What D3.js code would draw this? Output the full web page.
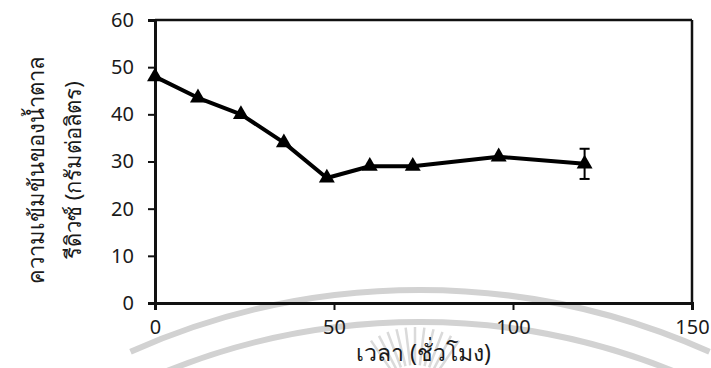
<!DOCTYPE html>
<html>
<head>
<meta charset="utf-8">
<script src="https://cdn.jsdelivr.net/npm/d3@7"></script>
<style>
  body { margin:0; background:#fff; }
  text { font-family: "Noto Sans", "DejaVu Sans", sans-serif; fill:#1a1a1a; }
</style>
</head>
<body>
<svg id="svg" width="711" height="368"></svg>
<script>
var hours  = [0, 12, 24, 36, 48, 60, 72, 96, 120],
    sugar  = [48, 43.5, 40, 34, 26.5, 29, 29, 31, 29.5],
    err    = [0, 0, 0, 0, 0, 0, 0, 0, 3.2];
var xTicks = [0, 50, 100, 150],
    yTicks = [0, 10, 20, 30, 40, 50, 60];
var yTitle = ["ความเข้มข้นของน้ำตาล", "รีดิวซ์ (กรัมต่อลิตร)"],
    xTitle = "เวลา (ชั่วโมง)";

// small stand-in for d3-selection-multi
d3.selection.prototype.attrs = function(o) {
  return this.each(function(d, i) {
    var v = typeof o === "function" ? o.call(this, d, i) : o, s = d3.select(this);
    for (var k in v) s.attr(k, v[k]);
  });
};

var svg = d3.select("#svg");
var L = 155, R = 692, T = 20, B = 303;

var x = d3.scaleLinear().domain([0, 150]).range([L, R]),
    y = d3.scaleLinear().domain([0, 60]).range([B, T]);

var data = hours.map((h, i) => ({h:h, v:sugar[i], e:err[i]}));

// faint watermark arcs behind the chart
var wm = svg.append("g").attr("fill", "none").attr("stroke", "#d2d2d2").attr("stroke-width", 6);
[[710, 0.42], [678, 0.40]].forEach(a => {
  wm.append("path").attr("transform", "translate(420,1000)")
    .attr("d", d3.arc().innerRadius(a[0]).outerRadius(a[0]).startAngle(-a[1]).endAngle(a[1]));
});
d3.range(-5, 6).forEach(k => {
  var ang = k * 0.12;
  wm.append("line").attrs({x1:415 + 78 * Math.sin(ang), y1:405 - 78 * Math.cos(ang),
                           x2:415 + 40 * Math.sin(ang), y2:405 - 40 * Math.cos(ang),
                           "stroke-width":2.5, stroke:"#dadada"});
});

// frame
svg.append("line").attrs({x1:L, x2:R, y1:T, y2:T, stroke:"#111", "stroke-width":2.5});
svg.append("line").attrs({x1:R, x2:R, y1:T, y2:B, stroke:"#111", "stroke-width":2.5});

var gx = svg.append("g").attr("transform", "translate(0," + B + ")")
    .call(d3.axisBottom(x).tickValues(xTicks).tickSize(7).tickPadding(10));
var gy = svg.append("g").attr("transform", "translate(" + L + ",0)")
    .call(d3.axisLeft(y).tickValues(yTicks).tickSize(7).tickPadding(14));

[gx, gy].forEach(g => {
  g.select(".domain").attr("stroke", "#111").attr("stroke-width", 3);
  g.selectAll(".tick line").attr("stroke", "#111").attr("stroke-width", 2);
  g.selectAll(".tick text").attr("font-size", 20).attr("fill", "#222")
    .attr("font-family", "'Noto Sans', sans-serif");
});

// line
svg.append("path").datum(data)
    .attr("d", d3.line().x(d => x(d.h)).y(d => y(d.v)))
    .attrs({fill:"none", stroke:"#000", "stroke-width":4, "stroke-linejoin":"round"});

// error bars
var eb = svg.selectAll(".err").data(data.filter(d => d.e > 0)).enter().append("g")
    .attr("stroke", "#000").attr("stroke-width", 2);
eb.append("line").attrs(d => ({x1:x(d.h), x2:x(d.h), y1:y(d.v - d.e), y2:y(d.v + d.e)}));
eb.append("line").attrs(d => ({x1:x(d.h)-5, x2:x(d.h)+5, y1:y(d.v + d.e), y2:y(d.v + d.e)}));
eb.append("line").attrs(d => ({x1:x(d.h)-5, x2:x(d.h)+5, y1:y(d.v - d.e), y2:y(d.v - d.e)}));

// markers
svg.selectAll(".pt").data(data).enter().append("path")
    .attr("d", d3.symbol().type(d3.symbolTriangle).size(110))
    .attr("transform", d => "translate(" + x(d.h) + "," + y(d.v) + ")")
    .attr("fill", "#000");

// titles
svg.append("text").attrs({x:(L + R) / 2, y:361, "text-anchor":"middle", "font-size":23, fill:"#000"}).text(xTitle);
svg.selectAll(".yt").data(yTitle).enter().append("text")
    .attr("transform", (d, i) => "translate(" + (44 + 37 * i) + ",170) rotate(-90)")
    .attrs({"text-anchor":"middle", "font-size":22, fill:"#000"})
    .text(d => d);
</script>
</body>
</html>
